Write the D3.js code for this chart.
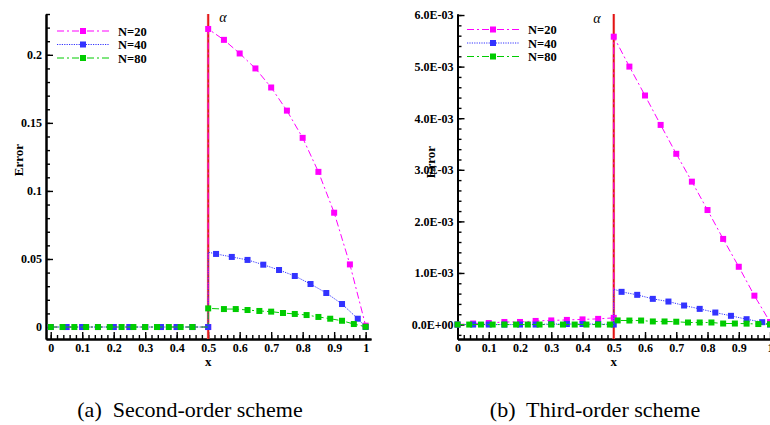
<!DOCTYPE html>
<html>
<head>
<meta charset="utf-8">
<title>Error profiles</title>
<script src="https://cdn.jsdelivr.net/npm/d3@7"></script>
<style>
  body { margin: 0; background: #fff; }
  svg { display: block; font-family: "Liberation Serif", "DejaVu Serif", serif; }
  .axis .tick text { font-weight: bold; font-size: 12px; fill: #000; font-family: "Liberation Serif", serif; }
  .axis path { stroke: #000; stroke-width: 2; }
  .axis line { stroke: #000; stroke-width: 1.4; }
  .lbl { font-weight: bold; font-size: 13px; }
  .leg { font-weight: bold; font-size: 12.5px; }
  .cap { font-size: 22px; white-space: pre; }
</style>
</head>
<body>
<svg id="chart" width="770" height="425"></svg>
<script>
// x positions (shared by both panels for N=20 and N=40)
var x20 = [0, 0.05, 0.1, 0.15, 0.2, 0.25, 0.3, 0.35, 0.4, 0.45, 0.5,
           0.5, 0.55, 0.6, 0.65, 0.7, 0.75, 0.8, 0.85, 0.9, 0.95, 1.0];
var x40 = [0, 0.05, 0.1, 0.15, 0.2, 0.25, 0.3, 0.35, 0.4, 0.45, 0.5,
           0.5, 0.525, 0.575, 0.625, 0.675, 0.725, 0.775, 0.825, 0.875, 0.925, 0.975, 1.0];
var xA80 = [0, 0.0375, 0.075, 0.1125, 0.15, 0.1875, 0.225, 0.2625, 0.3, 0.3375, 0.375, 0.4125, 0.45,
            0.5, 0.5, 0.55, 0.5875, 0.625, 0.6625, 0.7, 0.7375, 0.775, 0.8125, 0.85, 0.8875, 0.925, 0.9625, 1.0];
var xB80 = [0, 0.0375, 0.075, 0.1125, 0.15, 0.1875, 0.225, 0.2625, 0.3, 0.3375, 0.375, 0.4125, 0.45, 0.4875,
            0.5, 0.5125, 0.55, 0.5875, 0.625, 0.6625, 0.7, 0.7375, 0.775, 0.8125, 0.85, 0.8875, 0.925, 0.9625, 1.0];

// (a) second-order scheme
var errA20 = [0, 0, 0, 0, 0, 0, 0, 0, 0, 0, 0,
              0.219, 0.211, 0.201, 0.190, 0.176, 0.159, 0.139, 0.114, 0.084, 0.046, 0.001];
var errA40 = [0, 0, 0, 0, 0, 0, 0, 0, 0, 0, 0,
              0.055, 0.0537, 0.0515, 0.0493, 0.0458, 0.0419, 0.0375, 0.0316, 0.025, 0.0169, 0.0061, 0];
var errA80 = [0, 0, 0, 0, 0, 0, 0, 0, 0, 0, 0, 0, 0,
              0, 0.0137, 0.0132, 0.0132, 0.0125, 0.0118, 0.0113, 0.0103, 0.0096, 0.0088, 0.0074, 0.0061, 0.0046, 0.0022, 0.0002];

// (b) third-order scheme
var errB20 = [0, 0.02e-3, 0.03e-3, 0.05e-3, 0.05e-3, 0.07e-3, 0.08e-3, 0.09e-3, 0.10e-3, 0.11e-3, 0.13e-3,
              5.58e-3, 5.0e-3, 4.44e-3, 3.87e-3, 3.31e-3, 2.77e-3, 2.22e-3, 1.66e-3, 1.12e-3, 0.56e-3, 0.05e-3];
var errB40 = [0, 0, 0, 0, 0, 0, 0.01e-3, 0.01e-3, 0.01e-3, 0.01e-3, 0,
              0.686e-3, 0.634e-3, 0.576e-3, 0.498e-3, 0.446e-3, 0.369e-3, 0.304e-3, 0.233e-3, 0.169e-3, 0.104e-3, 0.046e-3, 0];
var errB80 = [0, 0, 0, 0, 0, 0, 0, 0, 0, 0, 0, 0, 0, 0,
              0, 0.08e-3, 0.078e-3, 0.078e-3, 0.06e-3, 0.06e-3, 0.055e-3, 0.04e-3, 0.04e-3, 0.04e-3, 0.02e-3, 0.02e-3, 0.018e-3, 0.01e-3, 0.005e-3];

// points on the jump at x=0.5 that carry no symbol
var noMarkA = [[], [11], [13]];
var noMarkB = [[], [11], [14]];

var names = ['N=20', 'N=40', 'N=80'];

var xTicks = [0, 0.1, 0.2, 0.3, 0.4, 0.5, 0.6, 0.7, 0.8, 0.9, 1];
var xTickLabels = ['0', '0.1', '0.2', '0.3', '0.4', '0.5', '0.6', '0.7', '0.8', '0.9', '1'];
var yTicksA = [0, 0.05, 0.1, 0.15, 0.2];
var yTickLabelsA = ['0', '0.05', '0.1', '0.15', '0.2'];
var yTicksB = [0, 1e-3, 2e-3, 3e-3, 4e-3, 5e-3, 6e-3];
var yTickLabelsB = ['0.0E+00', '1.0E-03', '2.0E-03', '3.0E-03', '4.0E-03', '5.0E-03', '6.0E-03'];

var COLORS = ['#ff00ff', '#3333ff', '#00cc00'];
var DASHES = ['7,3,2,3', '1.2,1.2', '7,3,2,3'];

var svg = d3.select('#chart');
var TOP = 14, BOTTOM = 339;

var drawPanel = function (cfg) {
  var g = svg.append('g');
  var x = d3.scaleLinear().domain(cfg.xDomain).range(cfg.xRange);
  var y = d3.scaleLinear().domain(cfg.yDomain).range([BOTTOM, TOP]);

  // minor ticks
  g.append('g').attr('class', 'axis').attr('transform', 'translate(0,' + BOTTOM + ')')
    .call(d3.axisBottom(x).tickValues(d3.range(0, 51).map(function (i) { return i * 0.02; })
      .filter(function (v) { return x(v) <= 770; }))
      .tickSize(-4).tickSizeOuter(0).tickFormat(''));
  g.append('g').attr('class', 'axis').attr('transform', 'translate(' + cfg.xRange[0] + ',0)')
    .call(d3.axisLeft(y).tickValues(cfg.yMinor).tickSize(-4).tickSizeOuter(0).tickFormat(''));

  // major ticks
  g.append('g').attr('class', 'axis').attr('transform', 'translate(0,' + BOTTOM + ')')
    .call(d3.axisBottom(x).tickValues(xTicks).tickSize(-7).tickSizeOuter(0).tickPadding(4)
      .tickFormat(function (d, i) { return xTickLabels[i]; }));
  g.append('g').attr('class', 'axis').attr('transform', 'translate(' + cfg.xRange[0] + ',0)')
    .call(d3.axisLeft(y).tickValues(cfg.yTicks).tickSize(-7).tickSizeOuter(0).tickPadding(4)
      .tickFormat(function (d, i) { return cfg.yLabels[i]; }));

  // interface at x = 0.5
  g.append('line').attr('x1', x(0.5)).attr('x2', x(0.5)).attr('y1', TOP).attr('y2', BOTTOM)
    .attr('stroke', '#ee7777').attr('stroke-width', 2.6);
  g.append('line').attr('x1', x(0.5)).attr('x2', x(0.5)).attr('y1', TOP).attr('y2', BOTTOM)
    .attr('stroke', '#e00000').attr('stroke-width', 1.2);
  g.append('text').attr('x', cfg.alpha[0]).attr('y', cfg.alpha[1]).attr('text-anchor', 'middle')
    .style('font-style', 'italic').style('font-size', '14px').text('\u03b1');

  var line = d3.line().x(function (d) { return x(d[0]); }).y(function (d) { return y(d[1]); });

  cfg.series.forEach(function (s, k) {
    var pts = s.x.map(function (v, i) { return [v, s.y[i], i]; });
    g.append('path').datum(pts).attr('d', line).attr('fill', 'none')
      .attr('stroke', COLORS[k]).attr('stroke-width', 1).attr('stroke-dasharray', DASHES[k]);
    g.selectAll('rect.m' + k).data(pts.filter(function (p) { return cfg.noMark[k].indexOf(p[2]) < 0; }))
      .enter().append('rect').attr('class', 'm' + k)
      .attr('x', function (d) { return x(d[0]) - 3; }).attr('y', function (d) { return y(d[1]) - 3; })
      .attr('width', 6).attr('height', 6).attr('fill', COLORS[k]);
  });

  // legend
  names.forEach(function (n, k) {
    var ly = cfg.legend[1] + k * 13.5;
    g.append('line').attr('x1', cfg.legend[0]).attr('x2', cfg.legend[0] + 52)
      .attr('y1', ly).attr('y2', ly).attr('stroke', COLORS[k]).attr('stroke-dasharray', DASHES[k]);
    g.append('rect').attr('x', cfg.legend[0] + 23).attr('y', ly - 3).attr('width', 6).attr('height', 6)
      .attr('fill', COLORS[k]);
    g.append('text').attr('class', 'leg').attr('x', cfg.legend[0] + 61).attr('y', ly + 4.5).text(n);
  });

  g.append('text').attr('class', 'lbl').attr('x', x(0.5)).attr('y', 366)
    .attr('text-anchor', 'middle').text('x');
  g.append('text').attr('class', 'lbl')
    .attr('transform', 'translate(' + cfg.errorPos[0] + ',' + cfg.errorPos[1] + ') rotate(-90)')
    .attr('text-anchor', 'middle').text('Error');
  g.append('text').attr('class', 'cap').attr('x', cfg.caption[0]).attr('y', 417)
    .attr('text-anchor', 'middle').text(cfg.caption[2]);
};

drawPanel({
  xDomain: [-0.015, 1.017], xRange: [46, 371],
  yDomain: [-0.0088, 0.23],
  yTicks: yTicksA, yLabels: yTickLabelsA,
  yMinor: d3.range(0, 24).map(function (i) { return i * 0.01; }),
  series: [{x: x20, y: errA20}, {x: x40, y: errA40}, {x: xA80, y: errA80}],
  noMark: noMarkA,
  alpha: [223, 22], legend: [57, 31], errorPos: [23, 160],
  caption: [190, 0, '(a)  Second-order scheme']
});

drawPanel({
  xDomain: [0, 1.03], xRange: [457.5, 779.4],
  yDomain: [-0.28e-3, 6.02e-3],
  yTicks: yTicksB, yLabels: yTickLabelsB,
  yMinor: d3.range(-1, 31).map(function (i) { return i * 0.2e-3; }),
  series: [{x: x20, y: errB20}, {x: x40, y: errB40}, {x: xB80, y: errB80}],
  noMark: noMarkB,
  alpha: [597, 23], legend: [467, 29.5], errorPos: [435, 162],
  caption: [595, 0, '(b)  Third-order scheme']
});
</script>
</body>
</html>
